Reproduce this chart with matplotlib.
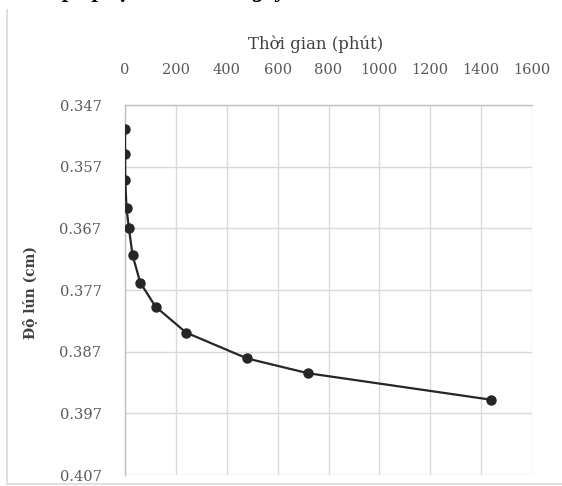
import matplotlib.pyplot as plt
from matplotlib.lines import Line2D

# Settlement readings over one day of loading
time_min = [0.1, 0.25, 1, 6, 15, 30, 60, 120, 240, 480, 720, 1440]
settlement_cm = [0.3509, 0.3550, 0.3592, 0.3637, 0.3669, 0.3714,
                 0.3758, 0.3797, 0.3839, 0.3881, 0.3905, 0.3948]

x_ticks = [0, 200, 400, 600, 800, 1000, 1200, 1400, 1600]
y_ticks = [0.347, 0.357, 0.367, 0.377, 0.387, 0.397, 0.407]

plt.rcParams['font.family'] = ['DejaVu Serif', 'Liberation Serif']

fig = plt.figure(figsize=(5.62, 4.86), dpi=100)
ax = fig.add_axes([125 / 562, 1 - 475 / 486, 407 / 562, 370 / 486])

ax.plot(time_min, settlement_cm, color='#262626', linewidth=1.6,
        marker='o', markersize=6.5, markerfacecolor='#262626',
        markeredgecolor='#262626', zorder=3)

# Reversed value axis puts the time axis along the top (Excel style)
ax.set_xlim(0, 1600)
ax.set_ylim(0.407, 0.347)
ax.set_xticks(x_ticks)
ax.set_yticks(y_ticks)
ax.set_yticklabels([f'{v:.3f}' for v in y_ticks])
ax.xaxis.tick_top()
ax.tick_params(axis='x', length=0, pad=20, labelsize=10.5, labelcolor='#595959')
ax.tick_params(axis='y', length=0, pad=17, labelsize=10.5, labelcolor='#595959')

ax.grid(True, color='#d9d9d9', linewidth=1.0)
ax.set_axisbelow(True)
for side in ['right', 'bottom']:
    ax.spines[side].set_visible(False)
for side in ['left', 'top']:
    ax.spines[side].set_color('#bfbfbf')
    ax.spines[side].set_linewidth(1.0)

fig.text(316 / 562, 1 - 44 / 486, 'Thời gian (phút)', ha='center', va='center',
         fontsize=12, color='#404040')
fig.text(30 / 562, 1 - 292 / 486, 'Độ lún (cm)', ha='center', va='center',
         rotation=90, fontsize=10, fontweight='bold', color='#404040')

# caption line above the chart, mostly cut off by the page edge
fig.text(36 / 562, 1 + 3 / 486, 'Cấp áp lực 1 – lún 1 ngày',
         ha='left', va='baseline', fontsize=17, fontweight='bold',
         fontstyle='italic', color='black', family='Liberation Serif')

# chart area border
fig.add_artist(Line2D([7 / 562, 7 / 562], [1 - 484 / 486, 1 - 10 / 486],
                      transform=fig.transFigure, color='#d9d9d9', linewidth=1.2))
fig.add_artist(Line2D([7 / 562, 1.0], [1 - 484 / 486, 1 - 484 / 486],
                      transform=fig.transFigure, color='#d9d9d9', linewidth=1.2))

fig.savefig('out.png', dpi=100)
